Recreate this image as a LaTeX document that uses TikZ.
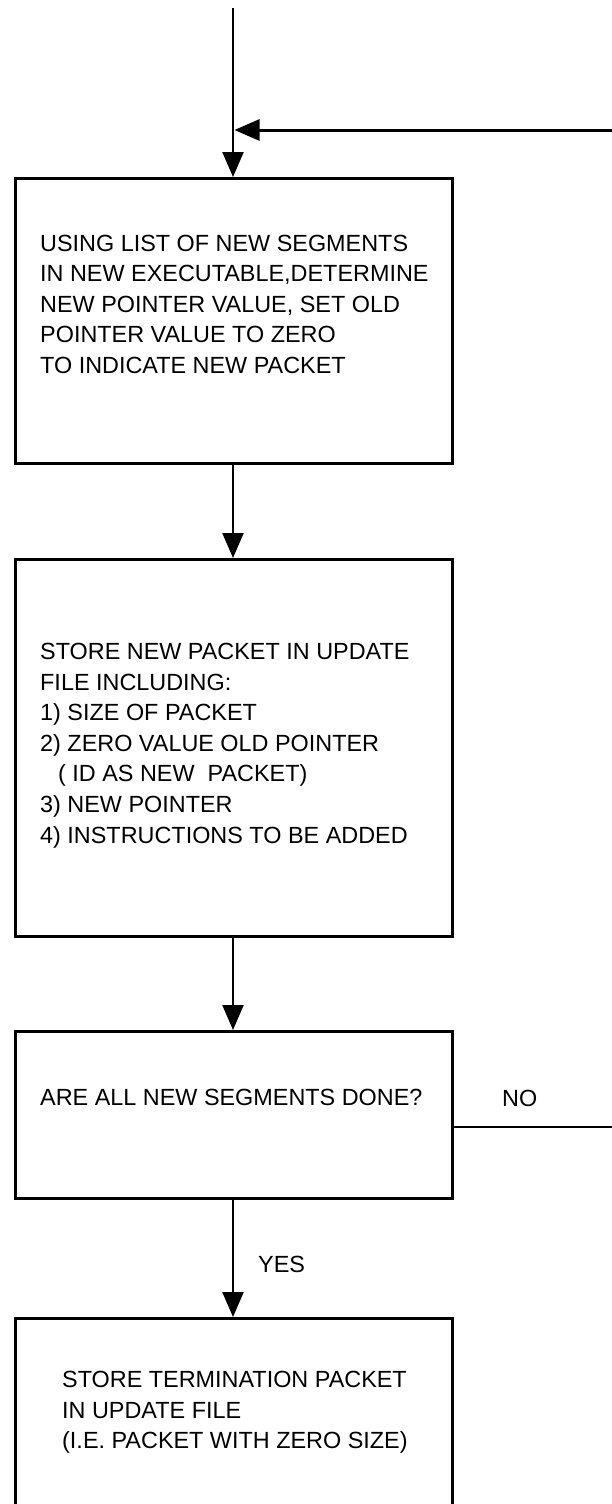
\documentclass[tikz,border=0pt]{standalone}
\usepackage{fontspec}
\setmainfont{Liberation Sans}
\usetikzlibrary{arrows.meta}
\tikzset{
  box/.style={draw, line width=3pt, minimum width=437pt, anchor=north west, inner sep=0pt},
  txt/.style={anchor=north west, inner sep=0pt, align=left, font=\fontsize{23.4}{30.6}\selectfont},
  lbl/.style={anchor=base west, inner sep=0pt, font=\fontsize{23.4}{30.6}\selectfont},
  conn/.style={line width=2.2pt, -{Triangle[length=25pt,width=21pt]}},
  plain/.style={line width=2.6pt}
}
\begin{document}
\begin{tikzpicture}[x=1pt,y=-1pt]
\useasboundingbox (0,0) rectangle (612,1504);
% boxes
\node[box, minimum height=285pt] (b1) at (14,177) {};
\node[box, minimum height=377pt] (b2) at (14,558) {};
\node[box, minimum height=167pt] (b3) at (14,1030) {};
\node[box, minimum height=230pt] (b4) at (14,1317) {};
\fill[white] (0,1504) rectangle (612,1560);
% texts
\node[txt] (t1) at (40,234.5) {USING LIST OF NEW SEGMENTS\\IN NEW EXECUTABLE,DETERMINE\\NEW POINTER VALUE, SET OLD\\POINTER VALUE TO ZERO\\TO INDICATE NEW PACKET};
\node[txt] (t2) at (40,643) {STORE NEW PACKET IN UPDATE\\FILE INCLUDING:\\1) SIZE OF PACKET\\2) ZERO VALUE OLD POINTER\\\hspace*{18pt}( ID AS NEW\ \ PACKET)\\3) NEW POINTER\\4) INSTRUCTIONS TO BE ADDED};
\node[txt] (t3) at (40,1089) {ARE ALL NEW SEGMENTS DONE?};
\node[txt] (t4) at (62,1371) {STORE TERMINATION PACKET\\IN UPDATE FILE\\(I.E. PACKET WITH ZERO SIZE)};
% connectors
\coordinate (top) at (233,8);
\coordinate (fbR) at (612,130);
\coordinate (noR) at (612,1127);
\draw[conn] (top) -- (top |- b1.north);
\draw[conn, line width=3pt] (fbR) -- ([xshift=1.5pt]fbR -| top);
\draw[conn] (top |- b1.south) -- (top |- b2.north);
\draw[conn] (top |- b2.south) -- (top |- b3.north);
\draw[conn] (top |- b3.south) -- (top |- b4.north);
\draw[plain] (b3.east |- noR) -- (noR);
\node[lbl] (yes) at (258,1272) {YES};
\node[lbl] (no) at (502,1106) {NO};
\end{tikzpicture}
\end{document}
